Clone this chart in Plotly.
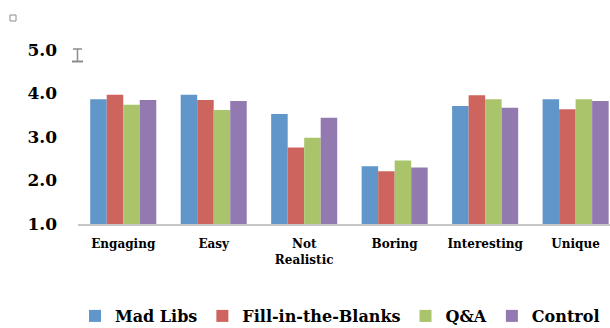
import plotly.graph_objects as go

categories = ["Engaging", "Easy", "Not<br>Realistic", "Boring", "Interesting", "Unique"]
series_names = ["Mad Libs", "Fill-in-the-Blanks", "Q&A", "Control"]
mad_libs = [3.87, 3.97, 3.53, 2.33, 3.71, 3.87]
fill_blanks = [3.97, 3.85, 2.76, 2.21, 3.96, 3.64]
qa = [3.74, 3.62, 2.98, 2.46, 3.87, 3.87]
control = [3.85, 3.83, 3.44, 2.30, 3.67, 3.83]
y_ticks = [1, 2, 3, 4, 5]
y_tick_labels = ["1.0", "2.0", "3.0", "4.0", "5.0"]

colors = ["#6096C9", "#CD645E", "#A9C46A", "#9279B0"]
FONT = "DejaVu Serif"

W, H = 610, 328
ML, MR, MT, MB = 78, 0, 50, 104
PW, PH = W - ML - MR, H - MT - MB

def px(x):
    return (x - ML) / PW

def py(y):
    return (H - MB - y) / PH

fig = go.Figure()
for name, vals, c in zip(series_names, [mad_libs, fill_blanks, qa, control], colors):
    fig.add_trace(go.Bar(
        x=categories, y=[v - 1 for v in vals], base=1, name=name,
        marker=dict(color=c, line=dict(width=0)),
        hoverinfo="skip",
    ))

shapes = [
    dict(type="rect", xref="paper", yref="paper", x0=px(10), x1=px(16), y0=py(21), y1=py(15),
         line=dict(color="#8c8c8c", width=1), fillcolor="white"),
    dict(type="line", xref="paper", yref="paper", x0=px(73), x1=px(82), y0=py(49), y1=py(49),
         line=dict(color="#8c8c8c", width=1.5)),
    dict(type="line", xref="paper", yref="paper", x0=px(77.5), x1=px(77.5), y0=py(49), y1=py(61),
         line=dict(color="#8c8c8c", width=1.5)),
    dict(type="line", xref="paper", yref="paper", x0=px(72), x1=px(83), y0=py(61.5), y1=py(61.5),
         line=dict(color="#8c8c8c", width=2)),
]

fig.update_layout(
    width=W, height=H,
    margin=dict(l=ML, r=MR, t=MT, b=MB, autoexpand=False),
    paper_bgcolor="white", plot_bgcolor="white",
    barmode="group", bargap=0.27, bargroupgap=0,
    font=dict(family=FONT, color="black"),
    showlegend=True,
    legend=dict(orientation="h", x=px(340), xanchor="center", y=py(316), yanchor="middle",
                font=dict(size=16, family=FONT, color="black", weight="bold"),
                itemwidth=30, tracegroupgap=0),
    shapes=shapes,
    xaxis=dict(
        type="category", range=[-0.5, 5.38],
        showline=True, linecolor="#c8c8c8", linewidth=1.5,
        showgrid=False, ticks="", zeroline=False, automargin=False,
        tickfont=dict(size=12, family=FONT, color="black", weight="bold"),
        ticklabelstandoff=8, fixedrange=True,
    ),
    yaxis=dict(
        range=[1, 5], tickvals=y_ticks, ticktext=y_tick_labels,
        showgrid=False, showline=False, zeroline=False, ticks="", automargin=False,
        tickfont=dict(size=17, family=FONT, color="black", weight="bold"),
        ticklabelstandoff=20, fixedrange=True,
    ),
)

fig.write_html("out.html", config={"displayModeBar": False})
